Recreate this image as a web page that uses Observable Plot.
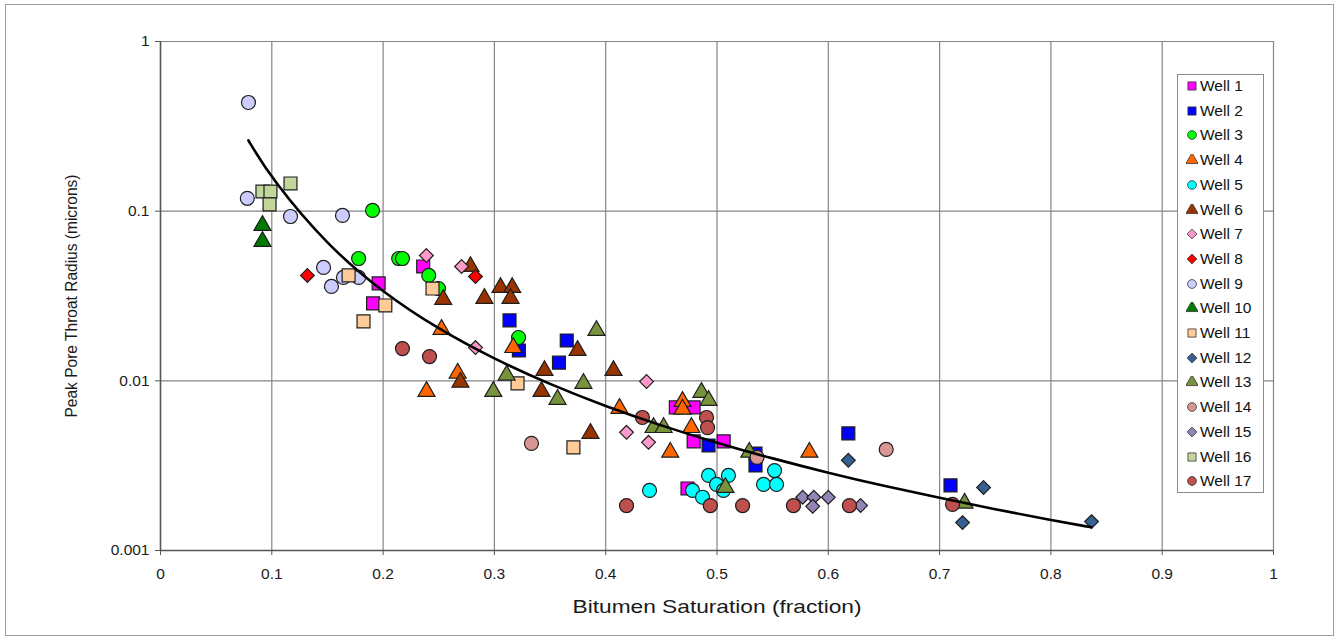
<!DOCTYPE html>
<html>
<head>
<meta charset="utf-8">
<script src="https://cdn.jsdelivr.net/npm/d3@7"></script>
<script src="https://cdn.jsdelivr.net/npm/@observablehq/plot@0.6"></script>
<style>
  html, body { margin: 0; padding: 0; background: #fff; }
  #wrap { position: relative; width: 1340px; height: 643px; overflow: hidden; font-family: "Liberation Sans", Arial, sans-serif; }
  #border { position: absolute; left: 5px; top: 4px; width: 1329px; height: 632px; border: 1px solid #9a9a9a; box-sizing: border-box; pointer-events: none; }
  #chart { position: absolute; left: 0; top: 0; }
  #legend { position: absolute; left: 1177px; top: 74px; width: 87px; height: 419px; border: 1px solid #8a8a8a; background: #fff; box-sizing: border-box; }
  .li { position: absolute; left: 0; height: 20px; display: flex; align-items: center; font-size: 15.5px; color: #111; white-space: nowrap; }
  .li svg { margin-left: 8px; margin-right: 2px; }
</style>
</head>
<body>
<div id="wrap">
  <div id="chart"></div>
  <div id="border"></div>
  <div id="legend"></div>
</div>
<script>
// ---- Data ----
const wellNames = ["Well 1","Well 2","Well 3","Well 4","Well 5","Well 6","Well 7","Well 8","Well 9","Well 10","Well 11","Well 12","Well 13","Well 14","Well 15","Well 16","Well 17"];
const wellColors = ["#FF00FF","#0000FF","#00FF00","#FF6600","#00FFFF","#993300","#FF99CC","#FF0000","#CCCCFF","#007A00","#FFCC99","#376092","#77933C","#D99694","#9384B7","#C3D69B","#C0504D"];
const wellSymbols = ["square","square","circle","triangle","circle","triangle","diamond2","diamond2","circle","triangle","square","diamond2","triangle","circle","diamond2","square","circle"];

const well1 = [[0.236,0.0472],[0.196,0.0375],[0.191,0.0286],[0.463,0.00697],[0.479,0.00697],[0.479,0.0044],[0.506,0.0044],[0.4735,0.00232]];
const well2 = [[0.3136,0.0227],[0.322,0.0151],[0.365,0.0173],[0.358,0.0128],[0.4924,0.00416],[0.5346,0.00373],[0.5346,0.00317],[0.618,0.0049],[0.7098,0.00242]];
const well3 = [[0.1905,0.101],[0.178,0.0526],[0.214,0.0526],[0.2174,0.0526],[0.241,0.0418],[0.2498,0.035],[0.3217,0.018]];
const well4 = [[0.2525,0.0201],[0.317,0.0157],[0.267,0.0111],[0.239,0.00866],[0.4124,0.00688],[0.469,0.00756],[0.469,0.0068],[0.477,0.0053],[0.458,0.00379],[0.583,0.00379]];
const well5 = [[0.4394,0.00226],[0.478,0.00226],[0.487,0.00206],[0.4924,0.00277],[0.5103,0.00277],[0.4996,0.00245],[0.5058,0.00226],[0.5517,0.00296],[0.5418,0.00245],[0.5535,0.00245]];
const well6 = [[0.3055,0.0355],[0.316,0.0355],[0.3145,0.0306],[0.291,0.0306],[0.254,0.0302],[0.2785,0.0472],[0.3747,0.0151],[0.345,0.0115],[0.407,0.0115],[0.3423,0.00866],[0.2695,0.0098],[0.3863,0.0049]];
const well7 = [[0.2389,0.0548],[0.2705,0.0472],[0.283,0.0157],[0.4367,0.0099],[0.4187,0.00497],[0.4385,0.00434]];
const well8 = [[0.132,0.0418],[0.283,0.0412]];
const well9 = [[0.079,0.437],[0.078,0.119],[0.1168,0.093],[0.1635,0.0944],[0.1465,0.0466],[0.1536,0.036],[0.1644,0.0407],[0.178,0.0407]];
const well10 = [[0.0916,0.0824],[0.0916,0.0663]];
const well11 = [[0.169,0.0418],[0.202,0.0278],[0.1824,0.0224],[0.2444,0.035],[0.3208,0.00966],[0.371,0.00405]];
const well12 = [[0.618,0.0034],[0.7395,0.00235],[0.7206,0.00146],[0.8365,0.00148]];
const well13 = [[0.3917,0.0198],[0.311,0.0108],[0.299,0.00866],[0.38,0.00966],[0.3567,0.00777],[0.486,0.00855],[0.4924,0.00767],[0.443,0.0053],[0.452,0.0053],[0.5076,0.00235],[0.529,0.00379],[0.7224,0.0019]];
const well14 = [[0.3333,0.00428],[0.652,0.00394],[0.536,0.00354]];
const well15 = [[0.577,0.00206],[0.587,0.00206],[0.6,0.00206],[0.586,0.00182],[0.629,0.00184]];
const well16 = [[0.0916,0.1306],[0.0988,0.1306],[0.098,0.1095],[0.1168,0.1456]];
const well17 = [[0.2174,0.0155],[0.2417,0.0139],[0.433,0.00608],[0.4906,0.00608],[0.4915,0.0053],[0.4187,0.00184],[0.494,0.00184],[0.523,0.00184],[0.5687,0.00184],[0.619,0.00184],[0.7116,0.00187]];

// Trend curve
const trendX = [0.079,0.1,0.15,0.2,0.25,0.3,0.35,0.4,0.45,0.5,0.55,0.6,0.65,0.7,0.75,0.8,0.8365];
const trendY = [0.261,0.1545,0.0627,0.0331,0.0201,0.01341,0.00952,0.00707,0.00544,0.0043,0.00348,0.00287,0.0024,0.00204,0.00175,0.00151,0.00137];

const xTicks = [0,0.1,0.2,0.3,0.4,0.5,0.6,0.7,0.8,0.9,1];
const xTickLabels = ["0","0.1","0.2","0.3","0.4","0.5","0.6","0.7","0.8","0.9","1"];
const yTicks = [0.001,0.01,0.1,1];
const yTickLabels = ["0.001","0.01","0.1","1"];
const xLabel = "Bitumen Saturation (fraction)";
const yLabel = "Peak Pore Throat Radius (microns)";

// ---- Build ----
const wells = [well1,well2,well3,well4,well5,well6,well7,well8,well9,well10,well11,well12,well13,well14,well15,well16,well17];
const symbolR = {square: 7.3, circle: 7, triangle: 6.3, diamond2: 6.2};
const trend = trendX.map((x, i) => ({x, y: trendY[i]}));

const dotMarks = wells.map((pts, i) => Plot.dot(pts, {
  x: d => d[0], y: d => d[1],
  symbol: wellSymbols[i], fill: wellColors[i],
  stroke: "#1e1e1e", strokeWidth: 1.2, r: symbolR[wellSymbols[i]]
}));

const plot = Plot.plot({
  width: 1340, height: 643,
  marginLeft: 160, marginRight: 67, marginTop: 41, marginBottom: 93,
  style: {fontFamily: "'Liberation Sans', Arial, sans-serif", fontSize: "15px", color: "#1a1a1a", background: "transparent"},
  x: {domain: [0, 1]},
  y: {type: "log", domain: [0.001, 1]},
  marks: [
    Plot.gridX(xTicks, {stroke: "#858585", strokeOpacity: 1, strokeWidth: 1.2}),
    Plot.gridY(yTicks, {stroke: "#858585", strokeOpacity: 1, strokeWidth: 1.2}),
    Plot.ruleX([0], {stroke: "#555", strokeWidth: 1.5}),
    Plot.ruleY([0.001], {stroke: "#555", strokeWidth: 1.5}),
    Plot.axisX({ticks: xTicks, tickFormat: d => xTickLabels[xTicks.indexOf(d)], tickSize: 5, tickPadding: 12, label: null, fontSize: 15.5, stroke: "#555"}),
    Plot.axisY({ticks: yTicks, tickFormat: d => yTickLabels[yTicks.indexOf(d)], tickSize: 5, tickPadding: 6, label: null, fontSize: 15.5, stroke: "#555"}),
    Plot.text([xLabel], {frameAnchor: "bottom", dy: 57, text: d => d, fontSize: 18.5, lineAnchor: "middle", textAnchor: "middle", fill: "#1a1a1a"}),
    Plot.text([yLabel], {frameAnchor: "left", dx: -89, rotate: -90, text: d => d, fontSize: 16.5, lineAnchor: "middle", textAnchor: "middle", fill: "#1a1a1a"}),
    ...dotMarks,
    Plot.line(trend, {x: "x", y: "y", stroke: "#000", strokeWidth: 2.6, curve: "basis"})
  ]
});
document.getElementById("chart").appendChild(plot);

// stretch the axis titles to the lengths seen in the reference
plot.querySelectorAll("text").forEach(t => {
  if (t.textContent === xLabel) { t.setAttribute("textLength", 289); t.setAttribute("lengthAdjust", "spacingAndGlyphs"); }
  if (t.textContent === yLabel) { t.setAttribute("textLength", 243); t.setAttribute("lengthAdjust", "spacingAndGlyphs"); }
});

// Legend
const legend = document.getElementById("legend");
const legendR = {square: 4.6, circle: 4.4, triangle: 4.6, diamond2: 4.4};
const d3Sym = {square: d3.symbolSquare, circle: d3.symbolCircle, triangle: d3.symbolTriangle, diamond2: d3.symbolDiamond2};
wellNames.forEach((name, i) => {
  const item = document.createElement("div");
  item.className = "li";
  item.style.top = (11 + i * 24.7 - 10) + "px";
  const s = wellSymbols[i];
  const r = legendR[s];
  const path = d3.symbol(d3Sym[s], Math.PI * r * r)();
  item.innerHTML = `<svg width="12" height="12" viewBox="-6 -6 12 12"><path d="${path}" fill="${wellColors[i]}" stroke="#333" stroke-width="0.8"/></svg><span>${name}</span>`;
  legend.appendChild(item);
});
</script>
</body>
</html>
